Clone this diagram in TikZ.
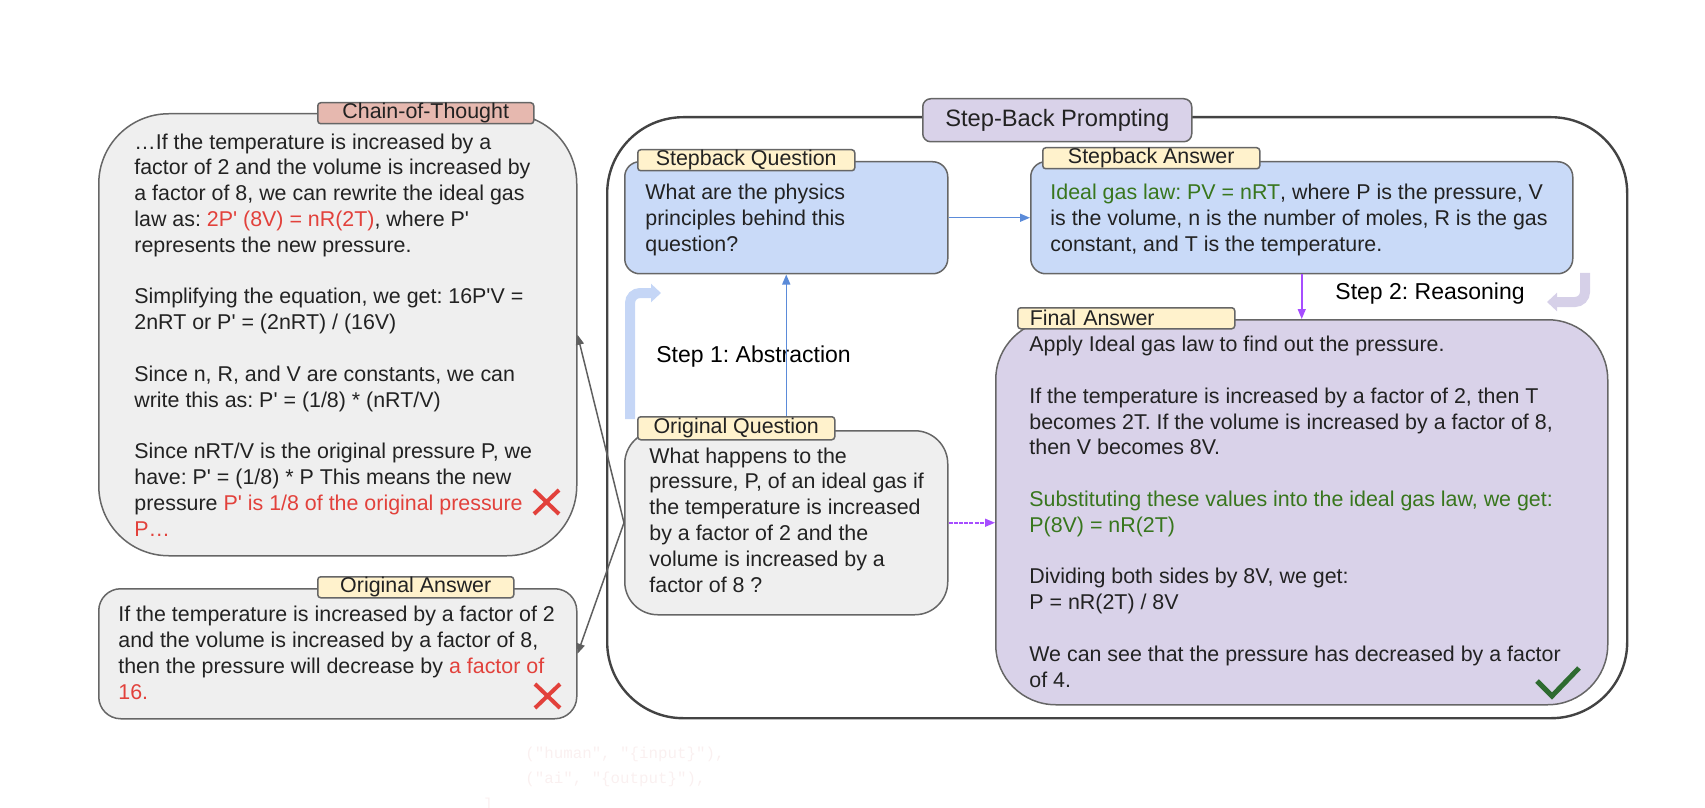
\documentclass[tikz,border=0pt]{standalone}
\usepackage{fontspec}
\setmainfont{Liberation Sans}
\newfontfamily\codefont{Liberation Mono}
\usepackage{xcolor}
\usetikzlibrary{arrows.meta}
\frenchspacing

\definecolor{boxgray}{HTML}{EFEFEF}
\definecolor{edgegray}{HTML}{666666}
\definecolor{outline}{HTML}{434343}
\definecolor{qblue}{HTML}{C9DAF8}
\definecolor{alav}{HTML}{D9D2E9}
\definecolor{tagyellow}{HTML}{FFF2CC}
\definecolor{tagpink}{HTML}{E6B8AF}
\definecolor{wrongred}{HTML}{E2413B}
\definecolor{okgreen}{HTML}{38761D}
\definecolor{checkgreen}{HTML}{2E6B30}
\definecolor{linkgray}{HTML}{5F5F5F}
\definecolor{linkblue}{HTML}{5B8BD9}
\definecolor{linkpurple}{HTML}{A64DFF}
\definecolor{barblue}{HTML}{C5D6F6}
\definecolor{barlav}{HTML}{D6D0E8}
\definecolor{txt}{HTML}{222222}
\definecolor{faint}{HTML}{FAF0F0}

\newcommand{\ap}{\textquotesingle}
\newcommand{\redtxt}[1]{\textcolor{wrongred}{#1}}
\newcommand{\greentxt}[1]{\textcolor{okgreen}{#1}}

\begin{document}
\begin{tikzpicture}[x=0.5pt,y=-0.5pt,font=\fontsize{10.7}{12.9}\selectfont,text=txt,
  box/.style={draw=edgegray,line width=0.75pt,anchor=north west,inner sep=0pt},
  tag/.style={draw=edgegray,line width=0.75pt,anchor=north west,inner sep=0pt,rounded corners=1.5pt,minimum height=10.5pt,fill=tagyellow},
  body/.style={anchor=base west,align=left,inner sep=0pt},
  steptext/.style={anchor=west,inner sep=0pt,text=black,font=\fontsize{11.5}{13}\selectfont},
  link/.style={line width=0.75pt,-{Triangle[length=5pt,width=4pt]}},
  bigarrow/.style={line width=5pt,rounded corners=5pt,-{Triangle[length=5pt,width=9pt]}},
  cross/.style={wrongred,line width=2pt}]

\useasboundingbox (0,0) rectangle (1705,808);

\node[box,fill=boxgray,rounded corners=35pt,minimum width=239pt,minimum height=221pt] (cot) at (98,113) {};			% chain-of-thought box
\node[box,fill=boxgray,rounded corners=11pt,minimum width=239pt,minimum height=65pt] (oa) at (98,588) {};			% original answer box
\node[box,draw=outline,line width=1.2pt,rounded corners=38pt,minimum width=510pt,minimum height=300.5pt] (sbp) at (606,116) {};	% step-back frame
\node[box,fill=qblue,rounded corners=7.5pt,minimum width=161.5pt,minimum height=56pt] (sq) at (624,161) {};			% stepback question
\node[box,fill=qblue,rounded corners=7.5pt,minimum width=271pt,minimum height=56pt] (sa) at (1030,161) {};			% stepback answer
\node[box,fill=boxgray,rounded corners=16.5pt,minimum width=161.5pt,minimum height=92pt] (oq) at (624,430) {};		% original question
\node[box,fill=alav,rounded corners=30pt,minimum width=306pt,minimum height=192.5pt] (fa) at (995,319) {};			% final answer

\node[tag,fill=tagpink,minimum width=108pt] (cottag) at (317,102) {Chain-of-Thought};
\node[tag,minimum width=98pt] (oatag) at (317,576) {Original Answer};
\node[tag,fill=alav,rounded corners=4pt,minimum width=134.5pt,minimum height=21.5pt,font=\fontsize{11.85}{14}\selectfont] (sbptag) at (922,98) {Step-Back Prompting};
\node[tag,minimum width=108.5pt] (sqtag) at (637,149) {Stepback Question};
\node[tag,minimum width=108.5pt] (satag) at (1042,147) {Stepback Answer};
\node[tag,minimum width=98.5pt,minimum height=11.5pt] (oqtag) at (637,416) {Original Question};
\node[tag,text width=96.5pt,inner xsep=6pt,align=left] (fatag) at (1017,307) {Final Answer};

% texts sit on the baseline of their last line
\node[body] (cottext) at (134,536) {…If the temperature is increased by a\\
factor of 2 and the volume is increased by\\
a factor of 8, we can rewrite the ideal gas\\
law as: \redtxt{2P\ap{} (8V) = nR(2T)}, where P\ap\\
represents the new pressure.\\[12.9pt]
Simplifying the equation, we get: 16P\ap V =\\
2nRT or P\ap{} = (2nRT) / (16V)\\[12.9pt]
Since n, R, and V are constants, we can\\
write this as: P\ap{} = (1/8) * (nRT/V)\\[12.9pt]
Since nRT/V is the original pressure P, we\\
have: P\ap{} = (1/8) * P This means the new\\
pressure \redtxt{P\ap{} is 1/8 of the original pressure}\\
\redtxt{P…}};

\node[body] (oatext) at (118,699) {If the temperature is increased by a factor of 2\\
and the volume is increased by a factor of 8,\\
then the pressure will decrease by \redtxt{a factor of}\\
\redtxt{16.}};

\node[body] (sqtext) at (645,251) {What are the physics\\
principles behind this\\
question?};

\node[body] (satext) at (1050,251) {\greentxt{Ideal gas law: PV = nRT}, where P is the pressure, V\\
is the volume, n is the number of moles, R is the gas\\
constant, and T is the temperature.};

\node[body] (oqtext) at (649,592) {What happens to the\\
pressure, P, of an ideal gas if\\
the temperature is increased\\
by a factor of 2 and the\\
volume is increased by a\\
factor of 8 ?};

\node[body] (fatext) at (1029,687) {Apply Ideal gas law to find out the pressure.\\[12.9pt]
If the temperature is increased by a factor of 2, then T\\
becomes 2T. If the volume is increased by a factor of 8,\\
then V becomes 8V.\\[12.9pt]
\greentxt{Substituting these values into the ideal gas law, we get:}\\
\greentxt{P(8V) = nR(2T)}\\[12.9pt]
Dividing both sides by 8V, we get:\\
P = nR(2T) / 8V\\[12.9pt]
We can see that the pressure has decreased by a factor\\
of 4.};

\node[steptext] (step1) at (656,357) {Step 1: Abstraction};
\node[steptext] (step2) at (1335,294) {Step 2: Reasoning};

\draw[link,linkgray] (oq.west) -- (cot.east);								% back to chain-of-thought
\draw[link,linkgray] (oq.west) -- (oa.east);								% back to original answer
\draw[link,linkblue] (sq.east) -- (sa.west);								% question to answer
\draw[link,linkblue] (sq.south |- oqtag.north) -- (sq.south);				% abstraction
\draw[link,linkpurple] (sa.south) -- (sa.south |- fa.north);				% reasoning
\draw[link,linkpurple,dash pattern=on 2pt off 0.6pt] (oq.east) -- (oq.east -| fa.west);

\draw[bigarrow,barblue] (630,419) -- (630,293) -- (661,293);				% step 1 bar
\draw[bigarrow,barlav] (1585,273) -- (1585,302) -- (1547,302);				% step 2 bar

\draw[cross] (534,490) -- (559,514) (534,514) -- (559,490);				% wrong cot
\draw[cross] (535,684) -- (560,708) (535,708) -- (560,684);				% wrong answer
\draw[checkgreen,line width=2.5pt] (1537,681) -- (1552,696) -- (1579,668);	% right answer

\node[anchor=base west,inner sep=0pt,align=left,text=faint,font=\codefont\fontsize{7.9}{12.5}\selectfont] (code) at (525,783) {("human", "\{input\}"),\\("ai", "\{output\}"),};
\node[anchor=base west,inner sep=0pt,text=faint,font=\codefont\fontsize{7.9}{12.5}\selectfont] (codeend) at (483,809) {]};

\end{tikzpicture}
\end{document}
